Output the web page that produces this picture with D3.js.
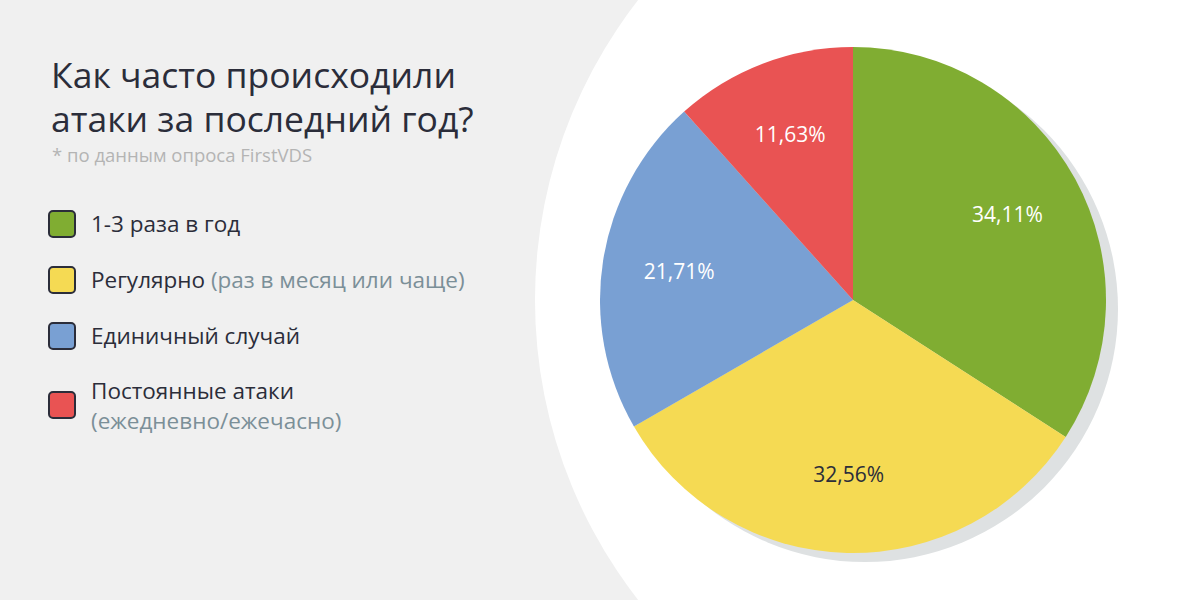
<!DOCTYPE html>
<html>
<head>
<meta charset="utf-8">
<script src="https://cdn.jsdelivr.net/npm/d3@7"></script>
<style>
  html, body { margin: 0; padding: 0; background: #f0f0f0; }
  svg { display: block; font-family: "Open Sans", "Noto Sans", sans-serif; }
</style>
</head>
<body>
<script>
// survey data
const categories = ["1-3 раза в год", "Регулярно", "Единичный случай", "Постоянные атаки"]
const notes = ["", "(раз в месяц или чаще)", "", "(ежедневно/ежечасно)"]
const values = [34.11, 32.56, 21.71, 11.63]
const colors = ["#80ad32", "#f5da53", "#79a0d3", "#e95353"]
const labelColors = ["#ffffff", "#2b2d3a", "#ffffff", "#ffffff"]

const W = 1200, H = 600
const svg = d3.select("body").append("svg")
    .attr("width", W)
    .attr("height", H)

// background: grey left, big white circle on the right
svg.append("rect").attr("width", W).attr("height", H).attr("fill", "#f0f0f0")
svg.append("circle")
    .attr("cx", 1023).attr("cy", 300).attr("r", 488)
    .attr("fill", "#ffffff")

// title
const title = svg.append("text")
    .attr("x", 51).attr("y", 88)
    .attr("fill", "#2b2d3a")
    .attr("font-size", 35.5)
title.append("tspan").attr("x", 51).text("Как часто происходили")
title.append("tspan").attr("x", 51).attr("dy", 44).text("атаки за последний год?")

svg.append("text")
    .attr("x", 52).attr("y", 162)
    .attr("fill", "#b4b4b4")
    .attr("font-size", 18.5)
    .text("* по данным опроса FirstVDS")

// legend
const legendY = d3.scalePoint().domain(d3.range(categories.length)).range([224, 392])
const legend = svg.selectAll("g.legend")
    .data(categories)
    .enter().append("g")
    .attr("class", "legend")
    .attr("transform", (d, i) => "translate(49," + (legendY(i) + (i == 3 ? 13 : 0)) + ")")

legend.append("rect")
    .attr("x", 0).attr("y", -13)
    .attr("width", 26).attr("height", 26)
    .attr("rx", 4)
    .attr("fill", (d, i) => colors[i])
    .attr("stroke", "#2b2d3a")
    .attr("stroke-width", 2)

legend.each(function(d, i) {
    const g = d3.select(this)
    const t = g.append("text")
        .attr("x", 42)
        .attr("font-size", 22.5)
        .attr("fill", "#2b2d3a")
    if (i == 3) {
        t.attr("y", -6).text(d)
        g.append("text")
            .attr("x", 42).attr("y", 24)
            .attr("font-size", 22.5)
            .attr("fill", "#7b8f98")
            .text(notes[i])
    } else {
        t.attr("y", 8).text(d)
        if (notes[i]) {
            t.append("tspan").attr("fill", "#7b8f98").text(" " + notes[i])
        }
    }
})

// pie
const cx = 853, cy = 300, r = 253
const pie = d3.pie().sort(null)(values)
const arc = d3.arc().innerRadius(0).outerRadius(r)
const labelArc = d3.arc().innerRadius(176).outerRadius(176)

const chart = svg.append("g").attr("transform", "translate(" + cx + "," + cy + ")")

chart.append("circle")
    .attr("cx", 12).attr("cy", 9).attr("r", r)
    .attr("fill", "#dee1e2")

chart.selectAll("path")
    .data(pie)
    .enter().append("path")
    .attr("d", arc)
    .attr("fill", (d, i) => colors[i])

chart.selectAll("text.val")
    .data(pie)
    .enter().append("text")
    .attr("class", "val")
    .attr("transform", d => "translate(" + labelArc.centroid(d) + ")")
    .attr("text-anchor", "middle")
    .attr("dy", "0.3em")
    .attr("font-size", 21)
    .attr("fill", (d, i) => labelColors[i])
    .text(d => d3.format(".2f")(d.value).replace(".", ",") + "%")
</script>
</body>
</html>
